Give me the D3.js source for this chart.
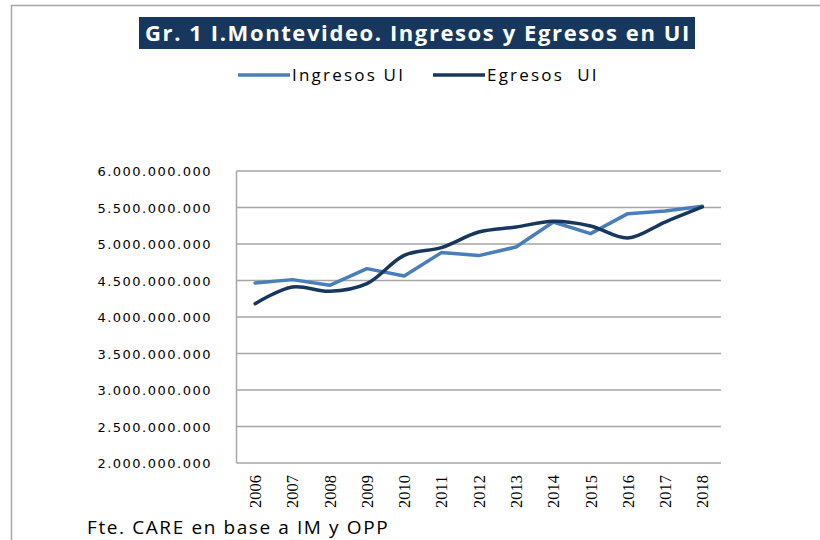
<!DOCTYPE html>
<html>
<head>
<meta charset="utf-8">
<script src="https://cdn.jsdelivr.net/npm/d3@7"></script>
<style>
body { margin: 0; background: #fff; }
.grid line { stroke: #a6a6a6; stroke-width: 1.5; }
</style>
</head>
<body>
<script>
const years = ["2006", "2007", "2008", "2009", "2010", "2011", "2012", "2013", "2014", "2015", "2016", "2017", "2018"]
const ingresos = [4466e6, 4512e6, 4434e6, 4663e6, 4562e6, 4882e6, 4841e6, 4959e6, 5301e6, 5142e6, 5416e6, 5452e6, 5516e6]
const egresos = [4183e6, 4411e6, 4352e6, 4458e6, 4845e6, 4951e6, 5164e6, 5233e6, 5311e6, 5247e6, 5082e6, 5301e6, 5507e6]
const yTicks = [2e9, 2.5e9, 3e9, 3.5e9, 4e9, 4.5e9, 5e9, 5.5e9, 6e9]
const title = "Gr. 1 I.Montevideo. Ingresos y Egresos en UI"
const source = "Fte. CARE en base a IM y OPP"

const width = 820
const height = 540
const plotLeft = 236.5, plotRight = 721, plotTop = 171, plotBottom = 463
const svg = d3.select("body")
    .append("svg")
    .attr("width", width)
    .attr("height", height)

// outer frame (top and left edges only visible)
svg.append("path")
    .attr("d", `M11.5,${height} V5.5 H${width}`)
    .attr("fill", "none")
    .attr("stroke", "#a6a6a6")
    .attr("stroke-width", 1.5)

// title bar
svg.append("rect")
    .attr("x", 139).attr("y", 17)
    .attr("width", 556).attr("height", 32)
    .attr("fill", "#17375e")
svg.append("text")
    .attr("x", 418).attr("y", 41)
    .attr("text-anchor", "middle")
    .attr("fill", "#fff")
    .style("font-family", "'Open Sans', sans-serif")
    .style("font-weight", "bold")
    .style("font-size", "22px")
    .style("letter-spacing", "1.6px")
    .text(title)

const x = d3.scalePoint().domain(years).range([plotLeft, plotRight]).padding(0.5)
const y = d3.scaleLinear().domain([2e9, 6e9]).range([plotBottom, plotTop])

// gridlines
svg.append("g")
    .attr("class", "grid")
    .selectAll("line")
    .data(yTicks)
    .join("line")
    .attr("x1", plotLeft).attr("x2", plotRight)
    .attr("y1", d => y(d)).attr("y2", d => y(d))

svg.append("line")
    .attr("x1", plotLeft).attr("x2", plotLeft)
    .attr("y1", plotTop).attr("y2", plotBottom)
    .attr("stroke", "#a6a6a6").attr("stroke-width", 1.5)

const fmt = d => d3.format(",")(d).replace(/,/g, ".")
svg.append("g")
    .selectAll("text")
    .data(yTicks)
    .join("text")
    .attr("x", 212)
    .attr("y", d => y(d) + 5)
    .attr("text-anchor", "end")
    .style("font-family", "'DejaVu Sans', sans-serif")
    .style("font-size", "13px")
    .style("letter-spacing", "1.5px")
    .attr("fill", "#000")
    .text(fmt)

svg.append("g")
    .selectAll("text")
    .data(years)
    .join("text")
    .attr("transform", d => `translate(${x(d) + 6},${508}) rotate(-90)`)
    .style("font-family", "'Liberation Serif', serif")
    .style("font-size", "16.5px")
    .attr("fill", "#000")
    .text(d => d)

const lineIn = d3.line()
    .x((d, i) => x(years[i]))
    .y(d => y(d))
const lineEg = d3.line()
    .x((d, i) => x(years[i]))
    .y(d => y(d))
    .curve(d3.curveCatmullRom.alpha(0.5))

svg.append("path")
    .datum(ingresos)
    .attr("d", lineIn)
    .attr("fill", "none")
    .attr("stroke", "#4a7ebb")
    .attr("stroke-width", 3.5)
    .attr("stroke-linecap", "round")
    .attr("stroke-linejoin", "round")
svg.append("path")
    .datum(egresos)
    .attr("d", lineEg)
    .attr("fill", "none")
    .attr("stroke", "#17375e")
    .attr("stroke-width", 3.5)
    .attr("stroke-linecap", "round")

// legend
const legend = [
    {name: "Ingresos UI", color: "#4a7ebb", x: 238},
    {name: "Egresos\u00a0\u00a0UI", color: "#17375e", x: 433}
]
const lg = svg.append("g")
    .selectAll("g")
    .data(legend)
    .join("g")
    .attr("transform", d => `translate(${d.x},75)`)
lg.append("line")
    .attr("x1", 0).attr("x2", 52)
    .attr("stroke", d => d.color)
    .attr("stroke-width", 3.5)
lg.append("text")
    .attr("x", 54).attr("y", 6)
    .style("font-family", "'Open Sans', sans-serif")
    .style("font-size", "17px")
    .style("letter-spacing", "2.2px")
    .attr("fill", "#000")
    .text(d => d.name)

svg.append("text")
    .attr("x", 87).attr("y", 534)
    .style("font-family", "'Open Sans', sans-serif")
    .style("font-size", "19px")
    .style("letter-spacing", "1.6px")
    .attr("fill", "#000")
    .text(source)
</script>
</body>
</html>
